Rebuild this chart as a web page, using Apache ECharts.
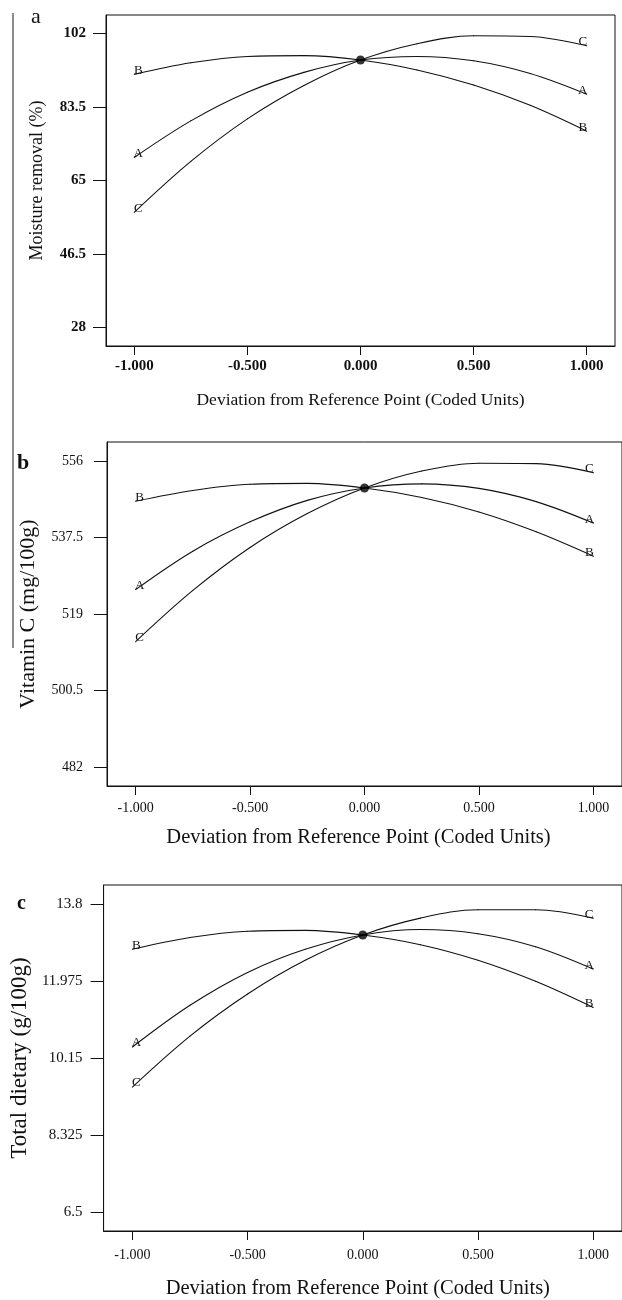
<!DOCTYPE html>
<html>
<head>
<meta charset="utf-8">
<script src="https://cdn.jsdelivr.net/npm/echarts@6/dist/echarts.min.js"></script>
<style>
html,body{margin:0;padding:0;background:#fff;}
#c{width:622px;height:1300px;}
</style>
</head>
<body>
<div id="c"></div>
<script>
// ---- data ----
const xs = [-1, -0.75, -0.5, -0.25, 0, 0.25, 0.5, 0.75, 1];
const xTicks = [-1, -0.5, 0, 0.5, 1];

const moistA = [70.8, 80.0, 87.2, 92.2, 95.3, 96.2, 95.1, 91.9, 86.7];
const moistB = [91.7, 94.6, 96.2, 96.4, 95.3, 92.8, 89.0, 83.9, 77.4];
const moistC = [57.0, 69.8, 80.5, 88.9, 95.3, 99.4, 101.4, 101.2, 98.9];
const moistTicks = [28, 46.5, 65, 83.5, 102];

const vitA = [524.9, 534.2, 541.3, 546.5, 549.5, 550.5, 549.4, 546.2, 541.0];
const vitB = [546.3, 548.9, 550.4, 550.6, 549.5, 547.2, 543.7, 538.9, 533.0];
const vitC = [512.3, 524.7, 535.1, 543.3, 549.5, 553.6, 555.5, 555.4, 553.2];
const vitTicks = [482, 500.5, 519, 537.5, 556];

const fibA = [10.41, 11.40, 12.18, 12.73, 13.07, 13.20, 13.10, 12.79, 12.26];
const fibB = [12.73, 13.01, 13.16, 13.18, 13.07, 12.84, 12.47, 11.97, 11.35];
const fibC = [9.46, 10.67, 11.67, 12.47, 13.07, 13.47, 13.67, 13.67, 13.47];
const fibTicks = [6.5, 8.325, 10.15, 11.975, 13.8];

const factorNames = ['A', 'B', 'C'];
const yTitles = ['Moisture removal (%)', 'Vitamin C (mg/100g)', 'Total dietary (g/100g)'];
const xTitle = 'Deviation from Reference Point (Coded Units)';
const panelLetters = ['a', 'b', 'c'];

// ---- layout / style ----
const SERIF = '"Liberation Serif", "DejaVu Serif", serif';
const INK = '#111';
const panels = [
  { series: [moistA, moistB, moistC], ticks: moistTicks,
    grid: { left: 106, top: 15, width: 509, height: 331 },
    yLab: { size: 15, weight: 'bold', margin: 20 }, xLab: { size: 15, weight: 'bold', margin: 13 },
    yName: { size: 18, gap: 60 }, xName: { size: 17.5, gap: 45, pad: [0, 0, 0, 0] } },
  { series: [vitA, vitB, vitC], ticks: vitTicks,
    grid: { left: 107, top: 442, width: 522, height: 344 },
    yLab: { size: 14, weight: 'normal', margin: 24 }, xLab: { size: 14, weight: 'normal', margin: 15 },
    yName: { size: 22, gap: 68 }, xName: { size: 20.5, gap: 41, pad: [0, 12, 0, 0] } },
  { series: [fibA, fibB, fibC], ticks: fibTicks,
    grid: { left: 103, top: 885, width: 527, height: 348 },
    yLab: { size: 15, weight: 'normal', margin: 21 }, xLab: { size: 14, weight: 'normal', margin: 17 },
    yName: { size: 23, gap: 68 }, xName: { size: 20.5, gap: 47, pad: [0, 10, 0, 0] } }
];

function buildData(ys, name) {
  return xs.map((x, i) => {
    const item = { value: [x, ys[i]] };
    if (i === 0 || i === xs.length - 1) {
      item.label = {
        show: true, formatter: name, position: 'top', distance: 0,
        offset: [i === 0 ? 4 : -4, 3],
        fontFamily: SERIF, fontSize: 13, color: INK
      };
    }
    return item;
  });
}

const grids = [], xAxes = [], yAxes = [], series = [];
panels.forEach((p, k) => {
  grids.push(Object.assign({ show: true, borderColor: INK, borderWidth: 1, backgroundColor: 'transparent' }, p.grid));
  const span = p.ticks[p.ticks.length - 1] - p.ticks[0];
  xAxes.push({
    type: 'value', gridIndex: k, min: -1.125, max: 1.125,
    axisLine: { show: true, onZero: false, lineStyle: { color: INK, width: 1 } },
    axisTick: { show: true, length: 9, customValues: xTicks, lineStyle: { color: INK, width: 1 } },
    axisLabel: { customValues: xTicks, margin: p.xLab.margin, fontFamily: SERIF, fontSize: p.xLab.size,
      fontWeight: p.xLab.weight, color: INK, formatter: v => Number(v).toFixed(3) },
    splitLine: { show: false },
    name: xTitle, nameLocation: 'middle', nameGap: p.xName.gap,
    nameTextStyle: { fontFamily: SERIF, fontSize: p.xName.size, color: INK, padding: p.xName.pad }
  });
  yAxes.push({
    type: 'value', gridIndex: k, min: p.ticks[0] - 0.0625 * span, max: p.ticks[p.ticks.length - 1] + 0.0625 * span,
    axisLine: { show: true, onZero: false, lineStyle: { color: INK, width: 1 } },
    axisTick: { show: true, length: 13, customValues: p.ticks, lineStyle: { color: INK, width: 1 } },
    axisLabel: { customValues: p.ticks, margin: p.yLab.margin, fontFamily: SERIF, fontSize: p.yLab.size,
      fontWeight: p.yLab.weight, color: INK, formatter: v => String(v) },
    splitLine: { show: false },
    name: yTitles[k], nameLocation: 'middle', nameGap: p.yName.gap,
    nameTextStyle: { fontFamily: SERIF, fontSize: p.yName.size, color: INK }
  });
  p.series.forEach((ys, j) => {
    series.push({
      type: 'line', name: factorNames[j], xAxisIndex: k, yAxisIndex: k,
      data: buildData(ys, factorNames[j]), smooth: 0.35,
      showSymbol: true, symbol: 'circle', symbolSize: 1,
      itemStyle: { color: INK }, lineStyle: { color: INK, width: 1.1 },
      silent: true
    });
  });
  // reference point (all curves cross at x = 0)
  const c = xs.indexOf(0);
  series.push({
    type: 'scatter', xAxisIndex: k, yAxisIndex: k, symbolSize: 9,
    itemStyle: { color: '#000' }, data: [[xs[c], p.series[0][c]]], silent: true, z: 5
  });
});

const chart = echarts.init(document.getElementById('c'), null, { renderer: 'canvas' });
chart.setOption({
  animation: false,
  backgroundColor: '#fff',
  grid: grids, xAxis: xAxes, yAxis: yAxes, series: series,
  graphic: [
    { type: 'line', shape: { x1: 13, y1: 13, x2: 13, y2: 648 }, style: { stroke: '#666', lineWidth: 1.5 } },
    { type: 'text', left: 31, top: 6, style: { text: panelLetters[0], font: '22px ' + SERIF, fill: INK } },
    { type: 'text', left: 17, top: 452, style: { text: panelLetters[1], font: 'bold 22px ' + SERIF, fill: INK } },
    { type: 'text', left: 17, top: 894, style: { text: panelLetters[2], font: 'bold 20px ' + SERIF, fill: INK } }
  ]
});
</script>
</body>
</html>
